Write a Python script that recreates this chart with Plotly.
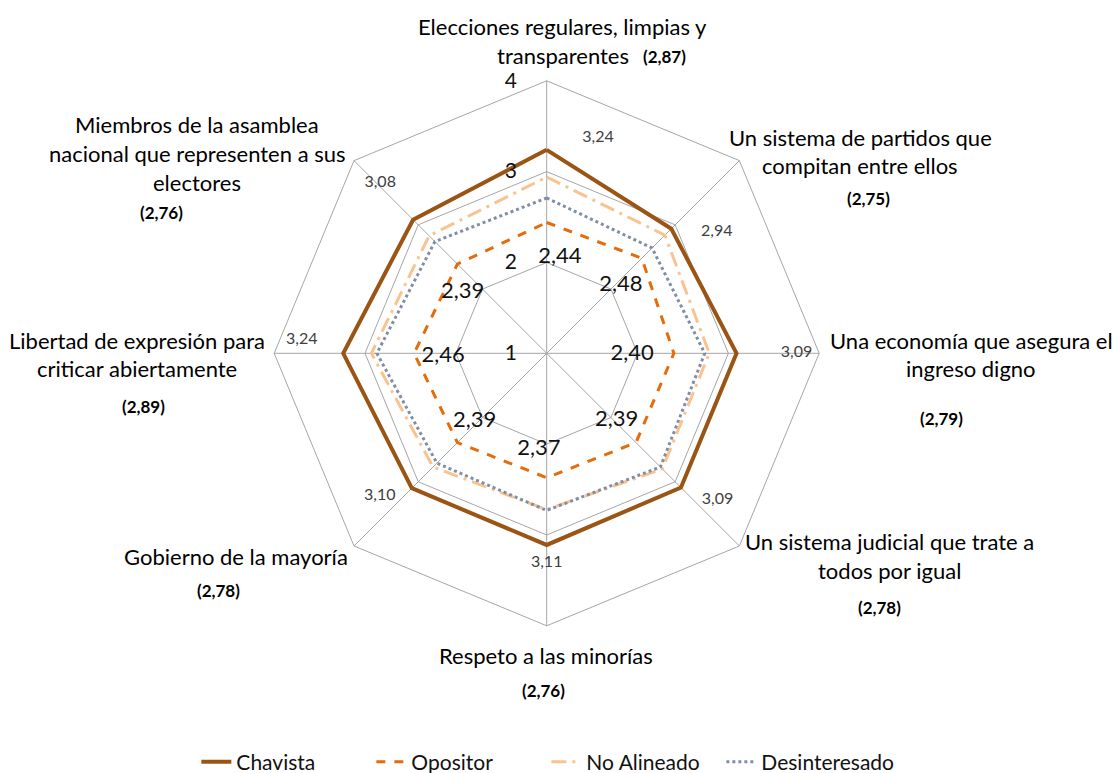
import plotly.graph_objects as go

W, H = 1115, 773

categorias = [
    "Elecciones regulares, limpias y<br>transparentes",
    "Un sistema de partidos que<br>compitan entre ellos",
    "Una economía que asegura el<br>ingreso digno",
    "Un sistema judicial que trate a<br>todos por igual",
    "Respeto a las minorías",
    "Gobierno de la mayoría",
    "Libertad de expresión para<br>criticar abiertamente",
    "Miembros de la asamblea<br>nacional que representen a sus<br>electores",
]
chavista = [3.24, 2.94, 3.09, 3.09, 3.11, 3.10, 3.24, 3.08]
opositor = [2.44, 2.48, 2.40, 2.39, 2.37, 2.39, 2.46, 2.39]
no_alineado = [2.94, 2.84, 2.79, 2.80, 2.72, 2.77, 2.93, 2.83]
desinteresado = [2.71, 2.64, 2.74, 2.77, 2.73, 2.71, 2.87, 2.74]
promedio = [2.87, 2.75, 2.79, 2.78, 2.76, 2.78, 2.89, 2.76]
ticks_radiales = [1, 2, 3, 4]

# ---- layout constants (label placement) ----
chav_lab_r = [3.44, 3.30, 3.75, 3.48, 3.31, 3.42, 3.70, 3.62]
chav_lab_th = [13.4, 54.5, 90, 130.7, 180, 229.4, 273.1, 315.6]
opo_lab_r = [2.06, 2.11, 1.94, 2.07, 2.06, 2.09, 2.14, 2.14]
opo_lab_th = [7.9, 47.4, 91.1, 133.9, 184.6, 226.6, 268.5, 305.8]
cat_pos = [(563, 41), (860, 151.5), (971, 354.5), (889, 556), (546, 655), (236, 556), (137, 354.5), (197, 153.5)]
prom_pos = [(665, 57), (868, 198), (941, 418), (879, 607), (543, 690), (218, 590), (143, 406), (162, 212)]
LINE_H = 28.5

FONT = "Lato, 'Open Sans', sans-serif"

def fmt(v):
    return f"{v:.2f}".replace(".", ",")

keys = [c.replace("<br>", " ") for c in categorias]
theta = keys + [keys[0]]

def closed(v):
    return list(v) + [v[0]]

fig = go.Figure()

series = [
    ("Chavista", chavista, dict(color="#9A5414", width=4, dash="solid")),
    ("Opositor", opositor, dict(color="#E46C0A", width=3, dash="dash")),
    ("No Alineado", no_alineado, dict(color="#F9C38F", width=3, dash="longdashdot")),
    ("Desinteresado", desinteresado, dict(color="#7F8EA6", width=3, dash="dot")),
]
for name, vals, line in series:
    fig.add_trace(go.Scatterpolar(r=closed(vals), theta=theta, mode="lines", name=name,
                                  line=line, subplot="polar", hoverinfo="skip"))

fig.add_trace(go.Scatterpolar(r=chav_lab_r, theta=chav_lab_th, mode="text",
                              text=[fmt(v) for v in chavista], subplot="polar2",
                              textfont=dict(family=FONT, size=16, color="#404040"),
                              showlegend=False, hoverinfo="skip"))
fig.add_trace(go.Scatterpolar(r=opo_lab_r, theta=opo_lab_th, mode="text",
                              text=[fmt(v) for v in opositor], subplot="polar2",
                              textfont=dict(family=FONT, size=22, color="#111111"),
                              showlegend=False, hoverinfo="skip"))

dom_x = [274.2 / W, 819.2 / W]
dom_y = [1 - 625.8 / H, 1 - 80.8 / H]
grid = "#A6A6A6"

fig.update_layout(
    width=W, height=H,
    margin=dict(l=0, r=0, t=0, b=0, autoexpand=False),
    paper_bgcolor="white",
    font=dict(family=FONT, color="black"),
    polar=dict(
        domain=dict(x=dom_x, y=dom_y),
        bgcolor="rgba(0,0,0,0)",
        gridshape="linear",
        angularaxis=dict(direction="clockwise", rotation=90, showticklabels=False,
                         ticks="", gridcolor=grid, linecolor=grid, showline=True,
                         gridwidth=1, linewidth=1),
        radialaxis=dict(range=[1, 4], tickvals=ticks_radiales, angle=90, tickangle=90,
                        showline=False, gridcolor=grid, gridwidth=1,
                        ticks="outside", ticklen=22, tickcolor="rgba(0,0,0,0)",
                        side="counterclockwise",
                        tickfont=dict(family=FONT, size=21, color="#111111")),
    ),
    polar2=dict(
        domain=dict(x=dom_x, y=dom_y),
        bgcolor="rgba(0,0,0,0)",
        angularaxis=dict(direction="clockwise", rotation=90, visible=False),
        radialaxis=dict(range=[1, 4], visible=False),
    ),
    legend=dict(orientation="h", x=0.49, xanchor="center", y=(H - 762) / H, yanchor="middle",
                entrywidth=130, entrywidthmode="pixels",
                font=dict(family=FONT, size=21, color="#111111"), bgcolor="rgba(0,0,0,0)"),
    showlegend=True,
)

anns = []
for label, (cx, cy) in zip(categorias, cat_pos):
    lines = label.split("<br>")
    n = len(lines)
    for i, ln in enumerate(lines):
        y = cy + (i - (n - 1) / 2) * LINE_H
        anns.append(dict(x=cx / W, y=1 - y / H, xref="paper", yref="paper", text=ln,
                         showarrow=False, xanchor="center", yanchor="middle",
                         font=dict(family=FONT, size=22, color="black")))
for v, (cx, cy) in zip(promedio, prom_pos):
    anns.append(dict(x=cx / W, y=1 - cy / H, xref="paper", yref="paper", text=f"<b>({fmt(v)})</b>",
                     showarrow=False, xanchor="center", yanchor="middle",
                     font=dict(family=FONT, size=17, color="black")))
fig.update_layout(annotations=anns)

fig.write_html("out.html")
